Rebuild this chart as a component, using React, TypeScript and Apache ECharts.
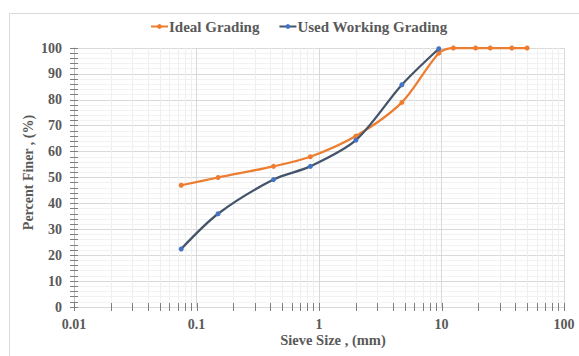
import React, { useEffect, useRef } from "react";
import * as echarts from "echarts";

const idealSizes = [0.075, 0.15, 0.425, 0.85, 2, 4.75, 9.5, 12.5, 19, 25, 37.5, 50];
const idealValues = [47, 50, 54.3, 58, 66, 79, 98, 100, 100, 100, 100, 100];
const workingSizes = [0.075, 0.15, 0.425, 0.85, 2, 4.75, 9.5];
const workingValues = [22.4, 36, 49.2, 54.3, 64.4, 85.8, 99.7];
const decades = [0.01, 0.1, 1, 10, 100];
const minorMultipliers = [2, 3, 4, 5, 6, 7, 8, 9];

const FONT = "'Liberation Serif', 'Times New Roman', serif";
const TXT = "#595959";

export default function App() {
  const ref = useRef<HTMLDivElement>(null);
  useEffect(() => {
    if (!ref.current) return;
    const chart = echarts.init(ref.current, undefined, { renderer: "svg" });
    const tickValues: number[][] = [];
    decades.forEach((d, i) => {
      tickValues.push([d, 1]);
      if (i < decades.length - 1) minorMultipliers.forEach((m) => tickValues.push([Number((d * m).toPrecision(6)), 0]));
    });
    const option: any = {
      animation: false,
      graphic: [
        { type: "rect", shape: { x: 9.5, y: 13.5, width: 700, height: 500 }, style: { fill: "none", stroke: "#d9d9d9", lineWidth: 1 }, silent: true },
      ],
      legend: {
        data: ["Ideal Grading", "Used Working Grading"],
        left: 150,
        top: 19,
        padding: 0,
        itemWidth: 17,
        itemHeight: 6,
        itemGap: 19,
        textStyle: { fontFamily: FONT, fontWeight: "bold", fontSize: 15, color: TXT, padding: [0, 0, 0, -4] },
      },
      grid: { left: 74, right: 15, top: 48, bottom: 49, containLabel: false },
      xAxis: {
        type: "log",
        logBase: 10,
        min: 0.01,
        max: 100,
        name: "Sieve Size , (mm)",
        nameLocation: "middle",
        nameGap: 25,
        nameMoveOverlap: false,
        nameTextStyle: { fontFamily: FONT, fontWeight: "bold", fontSize: 14.5, color: TXT, padding: [0, 0, 0, 28] },
        axisLine: { show: true, lineStyle: { color: "#d9d9d9" } },
        axisTick: { show: false },
        splitLine: { show: true, lineStyle: { color: "#d9d9d9" } },
        axisLabel: {
          fontFamily: FONT, fontWeight: "bold", fontSize: 14, color: TXT, margin: 10,
          formatter: (v: number) => String(Number(v.toPrecision(6))),
        },
      },
      yAxis: [
        {
          type: "value",
          min: 0,
          max: 100,
          interval: 10,
          name: "Percent Finer , (%)",
          nameLocation: "middle",
          nameGap: 39,
          nameMoveOverlap: false,
          nameTextStyle: { fontFamily: FONT, fontWeight: "bold", fontSize: 14, color: TXT, padding: [0, 0, 0, 10] },
          axisLine: { show: true, lineStyle: { color: "#bfbfbf" } },
          axisTick: { show: true, length: 4, lineStyle: { color: "#7f7f7f" } },
          minorTick: { show: true, splitNumber: 5, length: 4, lineStyle: { color: "#7f7f7f" } },
          splitLine: { show: true, lineStyle: { color: "#d9d9d9" } },
          minorSplitLine: { show: true, lineStyle: { color: "#f2f2f2" } },
          axisLabel: { fontFamily: FONT, fontWeight: "bold", fontSize: 14, color: TXT, margin: 12 },
        },
        {
          type: "value",
          min: 0,
          max: 100,
          interval: 10,
          position: "left",
          axisLine: { show: false },
          axisLabel: { show: false },
          axisTick: { show: true, inside: true, length: 4, lineStyle: { color: "#7f7f7f" } },
          minorTick: { show: true, splitNumber: 5, length: 4, lineStyle: { color: "#7f7f7f" } },
          splitLine: { show: false },
        },
      ],
      series: [
        {
          type: "custom",
          name: "ticks",
          silent: true,
          clip: false,
          z: 1,
          encode: { x: 0, y: 1 },
          data: tickValues,
          renderItem: (params: any, api: any) => {
            const v = api.value(0);
            const major = api.value(1) === 1;
            const top = api.coord([v, 100]);
            const bot = api.coord([v, 0]);
            const x = Math.round(bot[0]) + 0.5;
            const children: any[] = [];
            if (!major) {
              children.push({ type: "line", shape: { x1: x, y1: top[1], x2: x, y2: bot[1] }, style: { stroke: "#efefef", lineWidth: 1 } });
            }
            children.push({ type: "line", shape: { x1: x, y1: bot[1] - 4, x2: x, y2: bot[1] + 4 }, style: { stroke: "#7f7f7f", lineWidth: 1 } });
            return { type: "group", children };
          },
        },
        {
          name: "Ideal Grading",
          type: "line",
          smooth: 0.3,
          z: 3,
          data: idealSizes.map((s, i) => [s, idealValues[i]]),
          symbol: "circle",
          symbolSize: 5,
          lineStyle: { color: "#ED7D31", width: 2.25 },
          itemStyle: { color: "#ED7D31" },
        },
        {
          name: "Used Working Grading",
          type: "line",
          smooth: 0.3,
          z: 4,
          data: workingSizes.map((s, i) => [s, workingValues[i]]),
          symbol: "circle",
          symbolSize: 5,
          lineStyle: { color: "#44546A", width: 2.25 },
          itemStyle: { color: "#4472C4" },
        },
      ],
    };
    chart.setOption(option);
    return () => chart.dispose();
  }, []);
  return <div ref={ref} style={{ width: 579, height: 356, position: "absolute", left: 0, top: 0, background: "#fff" }} />;
}
